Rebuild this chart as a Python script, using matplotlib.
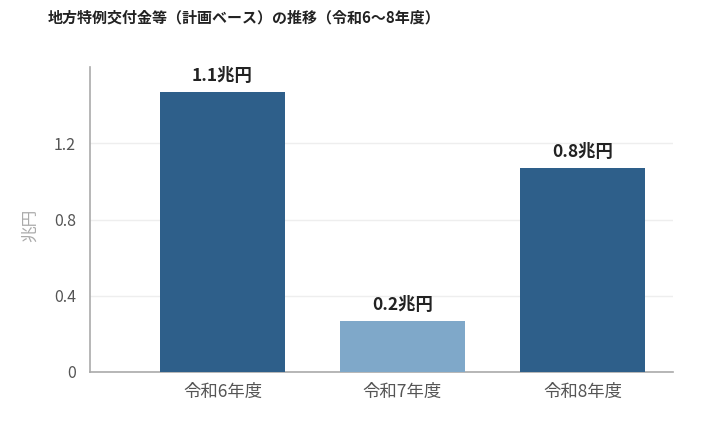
import matplotlib.pyplot as plt

plt.rcParams['font.family'] = ['Noto Sans CJK JP', 'DejaVu Sans']

# データ（棒の高さは軸目盛から読み取り、ラベルは図中の表記のまま）
years = ['令和6年度', '令和7年度', '令和8年度']
values = [1.47, 0.27, 1.07]
labels = ['1.1兆円', '0.2兆円', '0.8兆円']
colors = ['#2e5f8a', '#7fa8c9', '#2e5f8a']
yticks = [0, 0.4, 0.8, 1.2]

fig = plt.figure(figsize=(7.11, 4.34), dpi=100)
ax = fig.add_axes([90 / 711, 62 / 434, 583 / 711, 305 / 434])

x = list(range(len(years)))
bars = ax.bar(x, values, width=0.694, color=colors, zorder=3)

# 棒の上にラベル
for b, lab in zip(bars, labels):
    ax.annotate(lab, (b.get_x() + b.get_width() / 2, b.get_height()),
                xytext=(0, 5), textcoords='offset points',
                ha='center', va='bottom', fontsize=12.5, fontweight='bold',
                color='#222222')

ax.set_xlim(-0.736, 2.503)
ax.set_ylim(0, 1.60)
ax.set_xticks(x)
ax.set_xticklabels(years)
ax.set_yticks(yticks)
ax.set_yticklabels(['0', '0.4', '0.8', '1.2'])
ax.tick_params(axis='both', length=0, colors='#555555')
ax.tick_params(axis='y', pad=10, labelsize=11.5)
ax.tick_params(axis='x', pad=8, labelsize=12.5)

ax.grid(axis='y', color='#eeeeee', linewidth=1, zorder=0)
for s in ['top', 'right']:
    ax.spines[s].set_visible(False)
ax.spines['left'].set_color('#aaaaaa')
ax.spines['bottom'].set_color('#aaaaaa')
ax.spines['left'].set_linewidth(1.2)
ax.spines['bottom'].set_linewidth(1.2)

ax.set_ylabel('兆円', fontsize=12, color='#aaaaaa')
ax.yaxis.set_label_coords(-0.088, 0.48)

fig.text(48 / 711, 1 - 18 / 434, '地方特例交付金等（計画ベース）の推移（令和6～8年度）',
         fontsize=10.8, fontweight='bold', color='#222222', va='center', ha='left')

fig.savefig('out.png', dpi=100)
